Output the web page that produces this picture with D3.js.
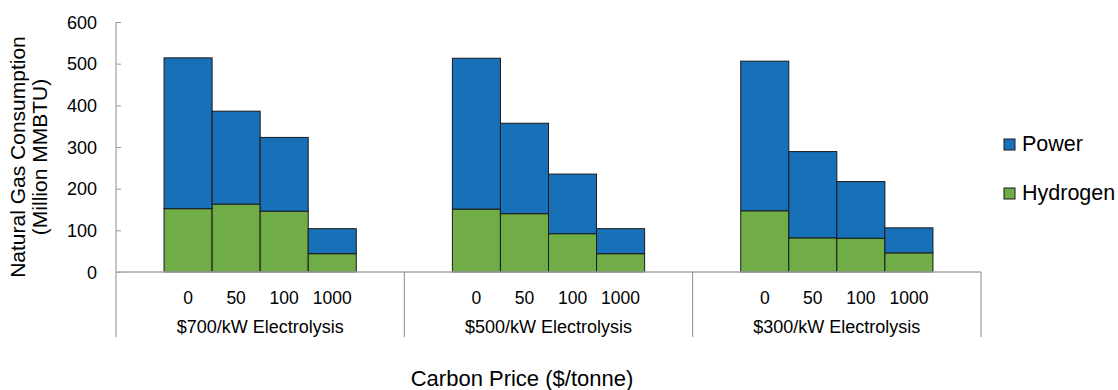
<!DOCTYPE html>
<html>
<head>
<meta charset="utf-8">
<script src="https://cdn.jsdelivr.net/npm/d3@7"></script>
<style>
  html, body { margin: 0; padding: 0; background: #fff; }
  svg { display: block; font-family: "Liberation Sans", Arial, sans-serif; }
</style>
</head>
<body>
<svg id="chart" width="1118" height="390"></svg>
<script>
// ---- data ----
const groups = ["$700/kW Electrolysis", "$500/kW Electrolysis", "$300/kW Electrolysis"];
const carbonPrices = ["0", "50", "100", "1000"];
const hydrogen = [
  [152, 163, 146, 44],
  [151, 140, 92, 44],
  [147, 82, 81, 46]
];
const power = [
  [362, 223, 177, 60],
  [362, 217, 143, 60],
  [359, 207, 136, 60]
];
const yTicks = [0, 100, 200, 300, 400, 500, 600];
const seriesNames = ["Power", "Hydrogen"];
const colors = { Power: "#1770b8", Hydrogen: "#70ad47" };

// ---- layout ----
const svg = d3.select("#chart");
const x0 = 116, x1 = 981, yTop = 22, yBase = 272, yBottom = 337;

const y = d3.scaleLinear().domain([0, 600]).range([yBase, yTop]);
const xg = d3.scaleBand().domain(groups).range([x0, x1]).padding(0);
const xc = d3.scaleBand().domain(carbonPrices).range([0, xg.bandwidth()])
  .paddingInner(0).paddingOuter(1);

// rows of stacked data
const rows = [];
groups.forEach((g, gi) => {
  carbonPrices.forEach((c, ci) => {
    rows.push({ group: g, price: c, Hydrogen: hydrogen[gi][ci], Power: power[gi][ci] });
  });
});
const stack = d3.stack().keys(["Hydrogen", "Power"]);
const stacked = stack(rows);

// bars
stacked.forEach(layer => {
  svg.append("g").selectAll("rect").data(layer).join("rect")
    .attr("x", d => xg(d.data.group) + xc(d.data.price))
    .attr("width", xc.bandwidth())
    .attr("y", d => y(d[1]))
    .attr("height", d => y(d[0]) - y(d[1]))
    .attr("fill", colors[layer.key])
    .attr("stroke", "#1a1a1a")
    .attr("stroke-width", 1);
});

// y axis
const yAxis = d3.axisRight(y).tickValues(yTicks).tickSize(5).tickFormat(() => "");
const ya = svg.append("g").attr("transform", `translate(${x0},0)`).call(yAxis);
ya.select(".domain").remove();
ya.selectAll(".tick line").attr("stroke", "#999");
svg.append("line").attr("x1", x0).attr("x2", x0).attr("y1", yTop).attr("y2", yBottom)
  .attr("stroke", "#a6a6a6").attr("stroke-width", 1.3);
svg.append("g").selectAll("text").data(yTicks).join("text")
  .attr("x", 97).attr("y", d => y(d) + 6.5)
  .attr("text-anchor", "end").attr("font-size", 18).attr("fill", "#000")
  .text(d => d);

// baseline
svg.append("line").attr("x1", x0).attr("x2", x1).attr("y1", yBase).attr("y2", yBase)
  .attr("stroke", "#a6a6a6").attr("stroke-width", 1.3);

// group separators
const bounds = groups.map(g => xg(g)).concat([xg(groups[groups.length - 1]) + xg.bandwidth()]);
svg.append("g").selectAll("line").data(bounds.slice(1)).join("line")
  .attr("x1", d => d).attr("x2", d => d).attr("y1", yBase).attr("y2", yBottom)
  .attr("stroke", "#8c8c8c").attr("stroke-width", 1);

// category labels
groups.forEach(g => {
  svg.append("g").selectAll("text").data(carbonPrices).join("text")
    .attr("x", c => xg(g) + xc(c) + xc.bandwidth() / 2)
    .attr("y", 303.5)
    .attr("text-anchor", "middle").attr("font-size", 17.5).attr("fill", "#000")
    .text(c => c);
});
svg.append("g").selectAll("text").data(groups).join("text")
  .attr("x", g => xg(g) + xg.bandwidth() / 2)
  .attr("y", 332.5)
  .attr("text-anchor", "middle").attr("font-size", 18).attr("fill", "#000")
  .text(g => g);

// axis titles
svg.append("text").attr("x", 522).attr("y", 386).attr("text-anchor", "middle")
  .attr("font-size", 22).attr("fill", "#000").text("Carbon Price ($/tonne)");
const yt = svg.append("text").attr("transform", "translate(0,157) rotate(-90)")
  .attr("text-anchor", "middle").attr("font-size", 21).attr("fill", "#000");
yt.append("tspan").attr("x", 0).attr("y", 25).text("Natural Gas Consumption");
yt.append("tspan").attr("x", 0).attr("y", 47).text("(Million MMBTU)");

// legend
const leg = svg.append("g").selectAll("g").data(seriesNames).join("g")
  .attr("transform", (d, i) => `translate(1004,${139 + i * 49})`);
leg.append("rect").attr("width", 11).attr("height", 11)
  .attr("fill", d => colors[d]).attr("stroke", "#1a1a1a").attr("stroke-width", 1);
leg.append("text").attr("x", 18).attr("y", 12).attr("font-size", 21.5).attr("fill", "#000")
  .text(d => d);
</script>
</body>
</html>
